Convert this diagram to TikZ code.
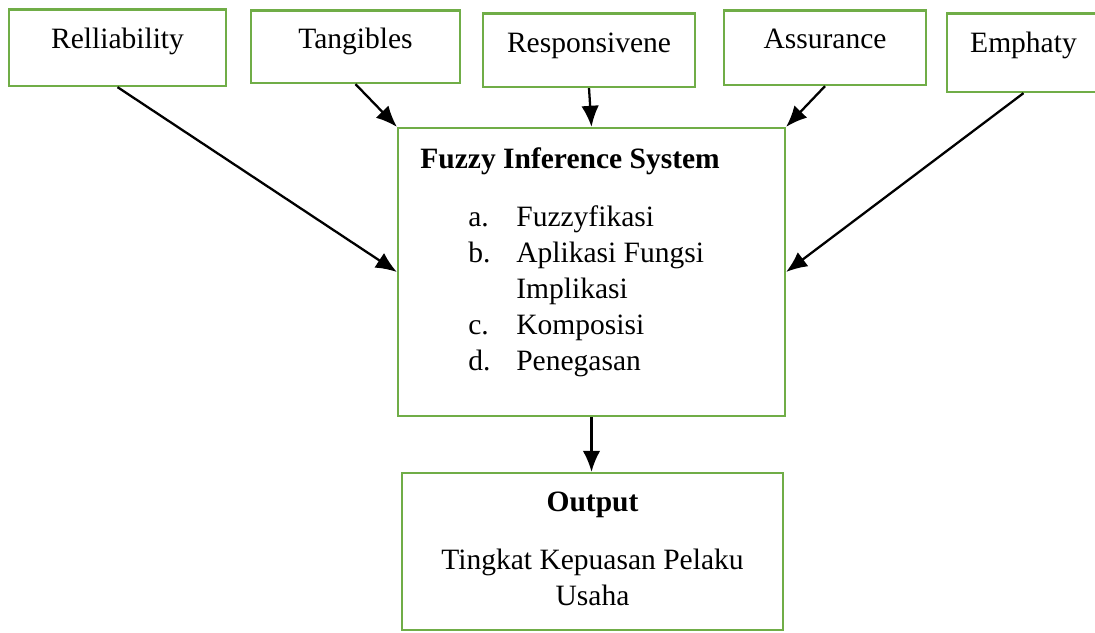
\documentclass[tikz,border=0pt]{standalone}
\usepackage{fontspec}
\setmainfont{Liberation Serif}
\usetikzlibrary{arrows.meta}
\definecolor{boxgreen}{RGB}{112,173,71}

\begin{document}
\begin{tikzpicture}[x=0.02cm, y=-0.02cm, font=\fontsize{16.8}{20.5}\selectfont,
	topbox/.style={draw=boxgreen, line width=1.3pt, inner sep=0pt, text height=0.77cm, anchor=base},
	bigbox/.style={draw=boxgreen, line width=1.3pt, inner sep=0pt},
	plain/.style={inner sep=0pt}]

	\useasboundingbox (0,0) rectangle (1095,632);

	\node[topbox, minimum width=4.34cm, text depth=0.76cm] (rel) at (117.5,48) {Relliability};
	\node[topbox, minimum width=4.18cm, text depth=0.68cm] (tan) at (355.5,49) {Tangibles};
	\node[topbox, minimum width=4.24cm, text depth=0.70cm] (res) at (589,52) {Responsivene};
	\node[topbox, minimum width=4.04cm, text depth=0.72cm] (ass) at (825,49) {Assurance};
	\node[topbox, minimum width=3.06cm, text depth=0.80cm] (emp) at (1023.5,52) {Emphaty};

	\node[bigbox, minimum width=7.74cm, minimum height=5.76cm] (fis) at (591.5,272) {};
	\node[plain, anchor=base west] (fistitle) at (420,168) {\textbf{Fuzzy Inference System}};
	\node[plain, anchor=base west] (fislist) at (468,226) {\begin{tabular}[t]{@{}p{0.96cm}@{}l@{}}
		a. & Fuzzyfikasi\\
		b. & Aplikasi Fungsi\\
		   & Implikasi\\
		c. & Komposisi\\
		d. & Penegasan
	\end{tabular}};

	\node[bigbox, minimum width=7.62cm, minimum height=3.14cm] (out) at (592.5,551.5) {};
	\node[plain, anchor=base] (outtext) at (592.5,511) {\begin{tabular}[t]{@{}c@{}}
		\textbf{Output}\\[13pt]
		Tingkat Kepuasan Pelaku\\
		Usaha
	\end{tabular}};

	\path[every edge/.style={draw, ->, line width=1.3pt}, >={Latex[length=12pt,width=10pt]}]
	(rel.south) edge (fis.west)
	(tan.south) edge (fis.north west)
	(res.south) edge (fis.north)
	(ass.south) edge (fis.north east)
	(emp.south) edge (fis.east)
	(fis.south) edge (fis.south |- out.north);

\end{tikzpicture}
\end{document}
